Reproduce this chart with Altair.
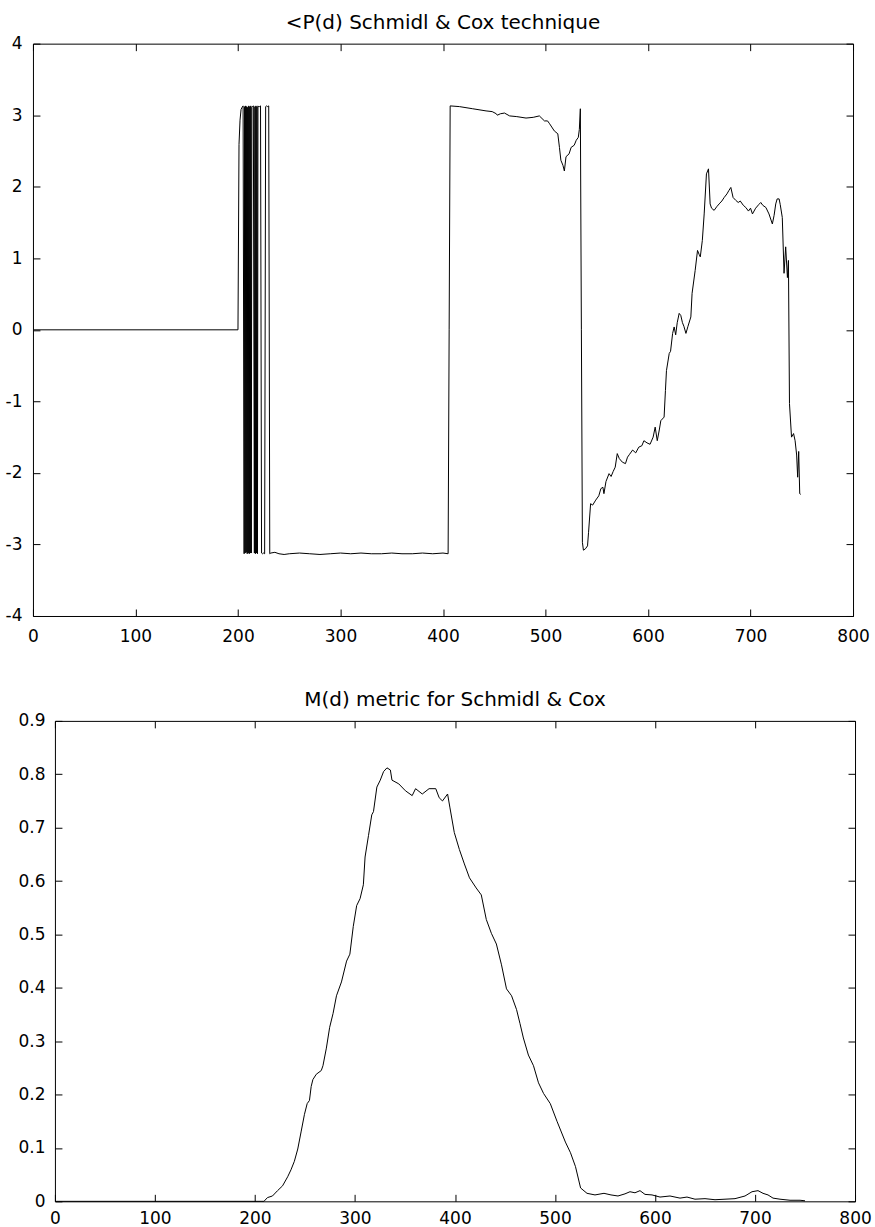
import altair as alt
import pandas as pd

# ---------------- data ----------------
# <P(d) (phase) series: sample index and value
phase_n = [1, 200, 201, 202, 203, 204, 205, 206, 206.5, 207, 207.5, 208, 208.5, 209, 209.5,
           210, 210.5, 211, 211.5, 212, 212.5, 213, 213.5,
           214, 215, 216, 216.5, 217, 217.5, 218, 218.5, 219, 219.5, 220, 221, 222, 223, 224, 225, 226, 227, 228,
           229, 230, 231, 232, 236, 240, 245, 250, 260, 270, 280, 290, 300, 310, 320,
           330, 340, 350, 360, 370, 380, 390, 400, 405, 406, 407, 416, 429, 442, 448,
           452, 453, 456, 460, 465, 472, 481, 488, 494, 499, 502, 504, 508.6, 512, 513.6,
           515, 517, 518.4, 520, 523, 525, 528, 530, 532, 533, 534, 535, 536, 537,
           539, 541, 542, 544, 546, 549, 552, 554, 556, 557, 559, 562, 564, 566, 568,
           570, 572, 575, 578, 580, 582, 585, 588, 591, 594, 596, 599, 602, 605, 607,
           609, 611, 612.5, 615.7, 617, 618, 620.7, 622, 624, 625.5, 627, 628.5, 630.4, 632, 633.6,
           635, 637, 639, 641.8, 643, 646, 648.3, 650, 651, 653, 654.8, 657, 659, 660.6, 662,
           664.5, 667, 669.4, 672, 674.3, 677, 679, 680.8, 683, 685.6, 688, 690, 693, 695.4, 698,
           700, 701.9, 705, 708, 710, 712, 715, 718, 721.3, 723, 724.6, 726, 727.9, 729, 731,
           732.7, 734.3, 736, 737, 738, 740, 742, 743.5, 745, 746, 747, 748, 749]
phase_v = [0, 0, 2.59, 2.93, 3.08, 3.11, 3.13, -3.13, 3.12, -3.12, 3.13, -3.11, 3.12, -3.13, 3.11,
           -3.12, 3.13, -3.13, 3.12, -3.12, 3.13, -3.12, 3.11,
           3.12, 3.13, -3.12, 3.12, -3.13, 3.13, -3.12, 3.12, -3.13, 3.13, 3.12, 3.12, 3.13, -3.12, -3.13, -3.12, -3.13, 3.12, 3.13,
           3.12, 3.13, -3.13, -3.12, -3.11, -3.13, -3.14, -3.13, -3.12, -3.13, -3.14, -3.13, -3.12, -3.13, -3.12,
           -3.13, -3.13, -3.12, -3.13, -3.13, -3.12, -3.13, -3.12, -3.13, 0.0, 3.13, 3.12, 3.09, 3.06, 3.05,
           3.02, 3.00, 3.02, 3.03, 2.99, 2.98, 2.96, 2.97, 2.99, 2.92, 2.92, 2.88, 2.78, 2.74, 2.55,
           2.37, 2.30, 2.22, 2.42, 2.46, 2.55, 2.58, 2.65, 2.69, 2.80, 3.09, 0.0, -2.97, -3.08,
           -3.06, -3.02, -2.83, -2.43, -2.45, -2.38, -2.32, -2.22, -2.20, -2.29, -2.12, -2.01, -2.05, -1.98, -1.92,
           -1.73, -1.80, -1.85, -1.87, -1.78, -1.74, -1.68, -1.72, -1.64, -1.62, -1.55, -1.58, -1.60, -1.50, -1.36,
           -1.55, -1.40, -1.27, -1.22, -0.85, -0.57, -0.33, -0.30, -0.05, 0.04, -0.07, 0.10, 0.23, 0.20, 0.10,
           0.05, -0.05, 0.05, 0.18, 0.51, 0.83, 1.11, 1.05, 1.02, 1.25, 1.62, 2.18, 2.25, 1.76, 1.70,
           1.67, 1.72, 1.76, 1.80, 1.85, 1.90, 1.95, 1.99, 1.85, 1.81, 1.78, 1.80, 1.74, 1.71, 1.66,
           1.70, 1.62, 1.70, 1.75, 1.78, 1.74, 1.71, 1.62, 1.48, 1.60, 1.76, 1.83, 1.83, 1.75, 1.57,
           0.79, 1.16, 0.73, 0.97, -1.03, -1.50, -1.45, -1.55, -1.75, -2.06, -1.70, -2.29, -2.30]

# M(d) metric series
metric_n = [1, 207, 209, 212.5, 217.5, 222.6, 227.6, 232.7, 236, 239.4, 242.8, 246.1, 249.5, 252.2,
            254.5, 256.2, 257.9, 261.3, 266.3, 268, 271.4, 274.7, 278.1, 281.5, 286.5, 291.6,
            294.9, 298.3, 301.7, 305.1, 308.4, 310.1, 313.5, 316.8, 318.5, 321.9, 325.3, 328.6,
            332, 335.4, 337, 343.8, 350.5, 357.2, 360.6, 367.3, 374.1, 380.8, 384.2, 387.5, 392.6,
            395, 399.3, 404.4, 409.4, 414.5, 421.2, 426.3, 431.3, 436.4, 441.4, 446.5, 451.5,
            456.6, 461.6, 465, 468.4, 473.4, 478.5, 483.5, 488.6, 495.3, 502, 510.4, 515.5,
            520.5, 525.6, 532, 540, 549, 556, 563, 570, 575, 580, 585, 590, 597, 605, 615, 625,
            632, 640, 650, 660, 670, 680, 690, 697, 703, 708, 713, 718, 725, 735, 745, 750]
metric_v = [0, 0, 0.0, 0.007, 0.010, 0.020, 0.029, 0.046, 0.059, 0.075, 0.098, 0.130, 0.163, 0.183,
            0.189, 0.215, 0.228, 0.238, 0.245, 0.254, 0.287, 0.326, 0.352, 0.385, 0.411, 0.450,
            0.463, 0.515, 0.554, 0.567, 0.593, 0.645, 0.685, 0.724, 0.730, 0.776, 0.789, 0.805,
            0.812, 0.808, 0.789, 0.782, 0.769, 0.760, 0.773, 0.763, 0.773, 0.773, 0.756, 0.750, 0.763,
            0.737, 0.691, 0.659, 0.632, 0.606, 0.587, 0.574, 0.528, 0.502, 0.482, 0.443, 0.398,
            0.385, 0.359, 0.333, 0.306, 0.274, 0.254, 0.222, 0.202, 0.183, 0.150, 0.111, 0.091,
            0.065, 0.025, 0.015, 0.012, 0.015, 0.012, 0.010, 0.014, 0.018, 0.016, 0.020, 0.013, 0.012, 0.008, 0.010, 0.006,
            0.008, 0.004, 0.005, 0.003, 0.004, 0.005, 0.010, 0.018, 0.020, 0.015, 0.012, 0.006, 0.004, 0.002, 0.002, 0.001]

x_ticks = [0, 100, 200, 300, 400, 500, 600, 700, 800]
phase_ticks = [-4, -3, -2, -1, 0, 1, 2, 3, 4]
metric_ticks = [0, 0.1, 0.2, 0.3, 0.4, 0.5, 0.6, 0.7, 0.8, 0.9]

top_title = "<P(d) Schmidl & Cox technique"
bottom_title = "M(d) metric for Schmidl & Cox"

phase_df = pd.DataFrame({"n": phase_n, "v": phase_v})
metric_df = pd.DataFrame({"n": metric_n, "v": metric_v})

FONT = "DejaVu Sans"


def make_axis(orient, values, labels=True, pad=10, offset=0, expr=None):
    kw = dict(
        orient=orient, values=values, grid=False, title=None,
        domainColor="black", domainWidth=1, tickColor="black", tickWidth=1,
        tickSize=alt.ExprRef(expr="-7"), labels=labels, labelFont=FONT,
        labelFontSize=17, labelColor="black", labelPadding=pad,
        labelFlush=False, labelOverlap=False, offset=offset,
    )
    if expr is not None:
        kw["labelExpr"] = expr
    return alt.Axis(**kw)


phase_expr = "datum.value < 0 ? '-' + abs(datum.value) : '' + datum.value"
metric_expr = "datum.value == 0 ? '0' : format(datum.value, '.1f')"

# ---------------- top chart ----------------
xs_top = alt.Scale(domain=[0, 800], range=[-22, 799], nice=False, zero=False)
ys_top = alt.Scale(domain=[-4, 4], nice=False, zero=False)

top_line = alt.Chart(phase_df).mark_line(color="black", strokeWidth=1).encode(
    x=alt.X("n:Q", scale=xs_top, axis=make_axis("bottom", x_ticks, pad=20)),
    y=alt.Y("v:Q", scale=ys_top, axis=make_axis("left", phase_ticks, pad=18, offset=22, expr=phase_expr)),
    order="n:Q",
)
top_ghost = alt.Chart(phase_df).mark_line(opacity=0).encode(
    x=alt.X("n:Q", scale=xs_top, axis=make_axis("top", x_ticks, labels=False)),
    y=alt.Y("v:Q", scale=ys_top, axis=make_axis("right", phase_ticks, labels=False)),
    order="n:Q",
)
top = alt.layer(top_line, top_ghost).resolve_axis(x="independent", y="independent").properties(
    width=799, height=573,
    title=alt.TitleParams(top_title, font=FONT, fontSize=20, fontWeight="normal", color="black",
                          anchor="middle", offset=2, dx=-11),
)

# ---------------- bottom chart ----------------
xs_bot = alt.Scale(domain=[0, 800], nice=False, zero=False)
ys_bot = alt.Scale(domain=[0, 0.9], nice=False, zero=False)

bot_line = alt.Chart(metric_df).mark_line(color="black", strokeWidth=1).encode(
    x=alt.X("n:Q", scale=xs_bot, axis=make_axis("bottom", x_ticks, pad=16)),
    y=alt.Y("v:Q", scale=ys_bot, axis=make_axis("left", metric_ticks, pad=17, expr=metric_expr)),
    order="n:Q",
)
bot_ghost = alt.Chart(metric_df).mark_line(opacity=0).encode(
    x=alt.X("n:Q", scale=xs_bot, axis=make_axis("top", x_ticks, labels=False)),
    y=alt.Y("v:Q", scale=ys_bot, axis=make_axis("right", metric_ticks, labels=False)),
    order="n:Q",
)
bottom = alt.layer(bot_line, bot_ghost).resolve_axis(x="independent", y="independent").properties(
    width=801, height=481,
    title=alt.TitleParams(bottom_title, font=FONT, fontSize=20, fontWeight="normal", color="black",
                          anchor="middle", offset=2),
)

chart = alt.vconcat(top, bottom, spacing=45).properties(
    padding={"left": 5, "top": 12, "right": 0, "bottom": 0},
    background="white",
).configure_view(strokeWidth=0)

chart.save("out.html", embed_options={"renderer": "svg", "actions": False})
